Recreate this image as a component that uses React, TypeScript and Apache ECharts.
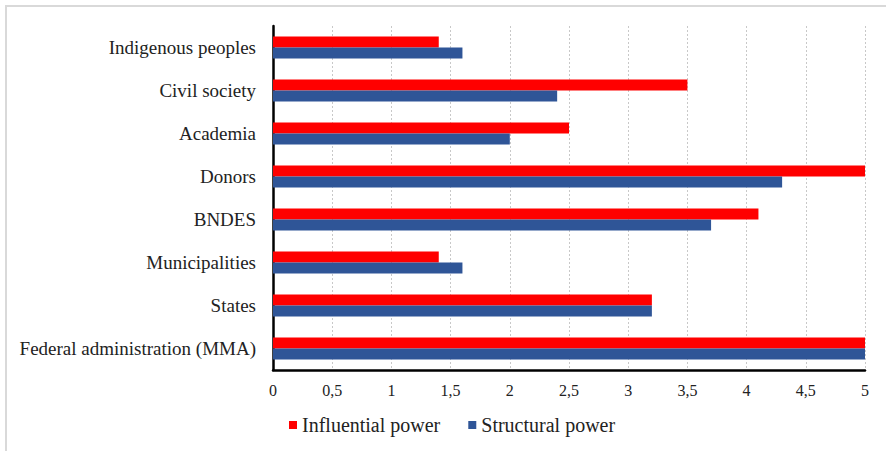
import React, { useEffect, useRef } from "react";
import * as echarts from "echarts";

const categories = [
  "Federal administration (MMA)",
  "States",
  "Municipalities",
  "BNDES",
  "Donors",
  "Academia",
  "Civil society",
  "Indigenous peoples",
];
const influentialPower = [5.0, 3.2, 1.4, 4.1, 5.0, 2.5, 3.5, 1.4];
const structuralPower = [5.0, 3.2, 1.6, 3.7, 4.3, 2.0, 2.4, 1.6];
const seriesNames = ["Influential power", "Structural power"];

export default function App() {
  const ref = useRef<HTMLDivElement>(null);
  useEffect(() => {
    if (!ref.current) return;
    const chart = echarts.init(ref.current, null, { renderer: "svg" });
    const font = "Liberation Serif";
    chart.setOption({
      animation: false,
      backgroundColor: "#ffffff",
      textStyle: { fontFamily: font },
      grid: { left: 273, right: 21, top: 26, bottom: 81, containLabel: false },
      legend: {
        left: 284,
        top: 410,
        itemWidth: 8,
        itemHeight: 8,
        itemGap: 28,
        icon: "rect",
        textStyle: { fontFamily: font, fontSize: 20, color: "#222" },
        data: seriesNames,
      },
      xAxis: {
        type: "value",
        min: 0,
        max: 5,
        interval: 0.5,
        axisLine: { show: true, lineStyle: { color: "#000", width: 2.5 } },
        axisTick: { show: false },
        axisLabel: {
          fontFamily: font,
          fontSize: 16,
          color: "#222",
          margin: 12,
          formatter: (v: number) => String(v).replace(".", ","),
        },
        splitLine: { show: true, lineStyle: { color: "#c8c8c8", type: [2, 2], width: 1 } },
      },
      yAxis: {
        type: "category",
        data: categories,
        axisLine: { show: true, lineStyle: { color: "#000", width: 2.5 } },
        axisTick: { show: false },
        axisLabel: { fontFamily: font, fontSize: 19, color: "#222", margin: 17 },
        splitLine: { show: false },
      },
      graphic: [
        {
          type: "polyline",
          shape: { points: [[6, 451], [6, 6], [886, 6]] },
          style: { stroke: "#d9d9d9", lineWidth: 2, fill: "none" },
          silent: true,
        },
      ],
      series: [
        {
          name: seriesNames[0],
          type: "bar",
          data: influentialPower,
          barWidth: 11,
          barGap: "0%",
          itemStyle: { color: "#ff0000" },
        },
        {
          name: seriesNames[1],
          type: "bar",
          data: structuralPower,
          barWidth: 11,
          barGap: "0%",
          itemStyle: { color: "#2f5597" },
        },
      ],
    });
    return () => chart.dispose();
  }, []);
  return (
    <div
      ref={ref}
      style={{ position: "fixed", left: 0, top: 0, width: 886, height: 451 }}
    />
  );
}
